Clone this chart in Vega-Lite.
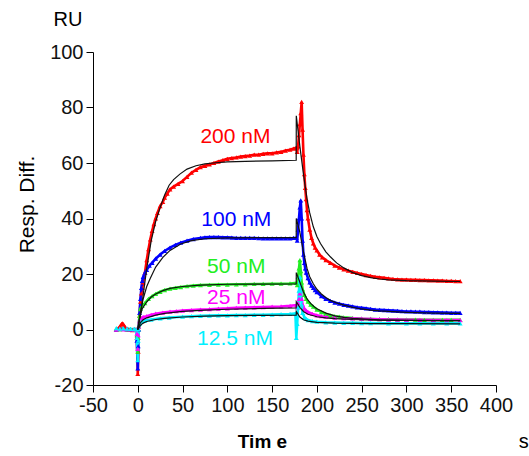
{
"$schema":"https://vega.github.io/schema/vega-lite/v6.json",
"width":403,"height":333,
"autosize":{"type":"none"},
"padding":{"left":93,"top":52,"right":33,"bottom":71},
"background":"white",
"config":{"view":{"stroke":null},"font":"Liberation Sans","axis":{"domainColor":"#000","domainWidth":1,"tickColor":"#000","tickWidth":1,"labelColor":"#111","labelFont":"Liberation Sans","labelFontSize":20,"grid":false,"titleFont":"Liberation Sans","titleColor":"#000"}},
"datasets":{
"obs":[
{"c":200,"t":-24,"y":0},{"c":200,"t":-22,"y":0.3},{"c":200,"t":-20,"y":1},{"c":200,"t":-18,"y":2},{"c":200,"t":-17,"y":2.2},{"c":200,"t":-16,"y":1.8},{"c":200,"t":-14,"y":0.8},{"c":200,"t":-12,"y":0.3},{"c":200,"t":-10,"y":0},{"c":200,"t":-8,"y":0},{"c":200,"t":-6,"y":-0.2},{"c":200,"t":-4,"y":0},{"c":200,"t":-2,"y":0},{"c":200,"t":-1,"y":-3},{"c":200,"t":0,"y":-16},{"c":200,"t":0.5,"y":-8},{"c":200,"t":1,"y":0},{"c":200,"t":2,"y":5},{"c":200,"t":3,"y":10},{"c":200,"t":4,"y":13},{"c":200,"t":5,"y":15},{"c":200,"t":6,"y":17},{"c":200,"t":8,"y":20.5},{"c":200,"t":10,"y":25},{"c":200,"t":12,"y":29},{"c":200,"t":14,"y":32.5},{"c":200,"t":16,"y":35.5},{"c":200,"t":18,"y":38},{"c":200,"t":20,"y":40},{"c":200,"t":22,"y":42},{"c":200,"t":25,"y":44.5},{"c":200,"t":28,"y":46},{"c":200,"t":30,"y":47.5},{"c":200,"t":33,"y":49},{"c":200,"t":36,"y":50.5},{"c":200,"t":40,"y":51.5},{"c":200,"t":45,"y":52.5},{"c":200,"t":50,"y":53.5},{"c":200,"t":55,"y":55},{"c":200,"t":60,"y":56.5},{"c":200,"t":65,"y":57.5},{"c":200,"t":70,"y":58.5},{"c":200,"t":75,"y":59},{"c":200,"t":80,"y":59.5},{"c":200,"t":85,"y":60},{"c":200,"t":90,"y":60.5},{"c":200,"t":95,"y":61},{"c":200,"t":100,"y":61.5},{"c":200,"t":105,"y":61.8},{"c":200,"t":110,"y":62},{"c":200,"t":115,"y":62.3},{"c":200,"t":120,"y":62.5},{"c":200,"t":125,"y":62.7},{"c":200,"t":130,"y":63},{"c":200,"t":135,"y":63},{"c":200,"t":140,"y":63.3},{"c":200,"t":145,"y":63.5},{"c":200,"t":150,"y":63.5},{"c":200,"t":155,"y":63.8},{"c":200,"t":160,"y":64},{"c":200,"t":165,"y":64.5},{"c":200,"t":170,"y":64.8},{"c":200,"t":174,"y":65.2},{"c":200,"t":177,"y":65.5},{"c":200,"t":178,"y":64},{"c":200,"t":179,"y":66},{"c":200,"t":180,"y":70},{"c":200,"t":181,"y":74},{"c":200,"t":182,"y":78},{"c":200,"t":183,"y":82},{"c":200,"t":184,"y":72},{"c":200,"t":185,"y":63},{"c":200,"t":186,"y":56},{"c":200,"t":187,"y":51},{"c":200,"t":188,"y":47},{"c":200,"t":189,"y":43},{"c":200,"t":190,"y":40},{"c":200,"t":192,"y":36},{"c":200,"t":194,"y":33},{"c":200,"t":196,"y":31},{"c":200,"t":198,"y":29.5},{"c":200,"t":200,"y":28.5},{"c":200,"t":203,"y":27},{"c":200,"t":206,"y":26},{"c":200,"t":210,"y":25},{"c":200,"t":215,"y":24},{"c":200,"t":220,"y":23},{"c":200,"t":225,"y":22.3},{"c":200,"t":230,"y":21.7},{"c":200,"t":235,"y":21.2},{"c":200,"t":240,"y":20.8},{"c":200,"t":245,"y":20.4},{"c":200,"t":250,"y":20},{"c":200,"t":255,"y":19.6},{"c":200,"t":260,"y":19.3},{"c":200,"t":265,"y":19},{"c":200,"t":270,"y":18.8},{"c":200,"t":275,"y":18.6},{"c":200,"t":280,"y":18.4},{"c":200,"t":285,"y":18.2},{"c":200,"t":290,"y":18.1},{"c":200,"t":295,"y":18},{"c":200,"t":300,"y":18},{"c":200,"t":305,"y":17.9},{"c":200,"t":310,"y":17.9},{"c":200,"t":315,"y":17.8},{"c":200,"t":320,"y":17.8},{"c":200,"t":325,"y":17.7},{"c":200,"t":330,"y":17.7},{"c":200,"t":335,"y":17.6},{"c":200,"t":340,"y":17.6},{"c":200,"t":345,"y":17.5},{"c":200,"t":350,"y":17.5},{"c":200,"t":355,"y":17.4},{"c":200,"t":360,"y":17.4},
{"c":100,"t":-24,"y":0},{"c":100,"t":-20,"y":0.2},{"c":100,"t":-16,"y":0.3},{"c":100,"t":-12,"y":0},{"c":100,"t":-8,"y":0},{"c":100,"t":-4,"y":0},{"c":100,"t":-2,"y":0},{"c":100,"t":-1,"y":-4},{"c":100,"t":0,"y":-14},{"c":100,"t":0.5,"y":-6},{"c":100,"t":1,"y":0},{"c":100,"t":2,"y":6},{"c":100,"t":3,"y":11},{"c":100,"t":4,"y":15},{"c":100,"t":5,"y":17.5},{"c":100,"t":6,"y":19},{"c":100,"t":8,"y":20.5},{"c":100,"t":10,"y":21.5},{"c":100,"t":13,"y":23},{"c":100,"t":16,"y":24},{"c":100,"t":20,"y":25.5},{"c":100,"t":25,"y":27},{"c":100,"t":30,"y":28.3},{"c":100,"t":36,"y":29.5},{"c":100,"t":42,"y":30.5},{"c":100,"t":48,"y":31.3},{"c":100,"t":55,"y":32},{"c":100,"t":62,"y":32.6},{"c":100,"t":70,"y":33},{"c":100,"t":75,"y":33.2},{"c":100,"t":80,"y":33.3},{"c":100,"t":85,"y":33.3},{"c":100,"t":90,"y":33.3},{"c":100,"t":95,"y":33.2},{"c":100,"t":100,"y":33.2},{"c":100,"t":105,"y":33.1},{"c":100,"t":110,"y":33},{"c":100,"t":115,"y":33},{"c":100,"t":120,"y":33},{"c":100,"t":125,"y":33},{"c":100,"t":130,"y":33},{"c":100,"t":135,"y":32.9},{"c":100,"t":140,"y":32.8},{"c":100,"t":145,"y":32.8},{"c":100,"t":150,"y":32.8},{"c":100,"t":155,"y":32.8},{"c":100,"t":160,"y":32.8},{"c":100,"t":165,"y":32.8},{"c":100,"t":170,"y":32.8},{"c":100,"t":174,"y":33},{"c":100,"t":177,"y":33},{"c":100,"t":178,"y":32},{"c":100,"t":179,"y":36},{"c":100,"t":180,"y":40},{"c":100,"t":181,"y":44},{"c":100,"t":182,"y":46.5},{"c":100,"t":183,"y":40},{"c":100,"t":184,"y":32},{"c":100,"t":185,"y":27},{"c":100,"t":186,"y":24},{"c":100,"t":187,"y":22},{"c":100,"t":188,"y":20.5},{"c":100,"t":190,"y":18.5},{"c":100,"t":192,"y":17},{"c":100,"t":194,"y":15.8},{"c":100,"t":196,"y":15},{"c":100,"t":198,"y":14.2},{"c":100,"t":200,"y":13.5},{"c":100,"t":205,"y":12},{"c":100,"t":210,"y":11},{"c":100,"t":215,"y":10.3},{"c":100,"t":220,"y":9.7},{"c":100,"t":225,"y":9.3},{"c":100,"t":230,"y":8.9},{"c":100,"t":235,"y":8.6},{"c":100,"t":240,"y":8.3},{"c":100,"t":245,"y":8},{"c":100,"t":250,"y":7.8},{"c":100,"t":255,"y":7.6},{"c":100,"t":260,"y":7.4},{"c":100,"t":265,"y":7.2},{"c":100,"t":270,"y":7.1},{"c":100,"t":275,"y":7},{"c":100,"t":280,"y":6.9},{"c":100,"t":285,"y":6.8},{"c":100,"t":290,"y":6.7},{"c":100,"t":295,"y":6.6},{"c":100,"t":300,"y":6.5},{"c":100,"t":305,"y":6.5},{"c":100,"t":310,"y":6.4},{"c":100,"t":315,"y":6.4},{"c":100,"t":320,"y":6.3},{"c":100,"t":325,"y":6.3},{"c":100,"t":330,"y":6.2},{"c":100,"t":335,"y":6.2},{"c":100,"t":340,"y":6.1},{"c":100,"t":345,"y":6.1},{"c":100,"t":350,"y":6},{"c":100,"t":355,"y":6},{"c":100,"t":360,"y":6},
{"c":50,"t":-24,"y":0.2},{"c":50,"t":-20,"y":0},{"c":50,"t":-16,"y":0.2},{"c":50,"t":-12,"y":0},{"c":50,"t":-8,"y":0.1},{"c":50,"t":-4,"y":0},{"c":50,"t":-2,"y":0},{"c":50,"t":-1,"y":-2},{"c":50,"t":0,"y":-8},{"c":50,"t":0.5,"y":-3},{"c":50,"t":1,"y":1},{"c":50,"t":2,"y":5},{"c":50,"t":3,"y":7.5},{"c":50,"t":5,"y":8.5},{"c":50,"t":8,"y":9.5},{"c":50,"t":12,"y":11},{"c":50,"t":16,"y":12},{"c":50,"t":20,"y":12.8},{"c":50,"t":25,"y":13.6},{"c":50,"t":30,"y":14.2},{"c":50,"t":36,"y":14.7},{"c":50,"t":42,"y":15},{"c":50,"t":48,"y":15.3},{"c":50,"t":55,"y":15.6},{"c":50,"t":62,"y":15.8},{"c":50,"t":70,"y":16},{"c":50,"t":80,"y":16.1},{"c":50,"t":90,"y":16.2},{"c":50,"t":100,"y":16.2},{"c":50,"t":110,"y":16.3},{"c":50,"t":120,"y":16.3},{"c":50,"t":130,"y":16.4},{"c":50,"t":140,"y":16.4},{"c":50,"t":150,"y":16.5},{"c":50,"t":160,"y":16.5},{"c":50,"t":170,"y":16.6},{"c":50,"t":177,"y":16.8},{"c":50,"t":178,"y":16},{"c":50,"t":179,"y":19},{"c":50,"t":180,"y":22},{"c":50,"t":181,"y":25},{"c":50,"t":182,"y":21},{"c":50,"t":183,"y":17},{"c":50,"t":184,"y":14.5},{"c":50,"t":186,"y":12.5},{"c":50,"t":188,"y":11},{"c":50,"t":190,"y":10},{"c":50,"t":193,"y":9},{"c":50,"t":196,"y":8.2},{"c":50,"t":200,"y":7.2},{"c":50,"t":205,"y":6.3},{"c":50,"t":210,"y":5.6},{"c":50,"t":215,"y":5.1},{"c":50,"t":220,"y":4.8},{"c":50,"t":225,"y":4.6},{"c":50,"t":230,"y":4.4},{"c":50,"t":240,"y":4.1},{"c":50,"t":250,"y":3.9},{"c":50,"t":260,"y":3.8},{"c":50,"t":270,"y":3.7},{"c":50,"t":280,"y":3.7},{"c":50,"t":290,"y":3.6},{"c":50,"t":300,"y":3.6},{"c":50,"t":310,"y":3.6},{"c":50,"t":320,"y":3.5},{"c":50,"t":330,"y":3.5},{"c":50,"t":340,"y":3.5},{"c":50,"t":350,"y":3.5},{"c":50,"t":360,"y":3.5},
{"c":25,"t":-24,"y":0},{"c":25,"t":-20,"y":0.2},{"c":25,"t":-16,"y":0},{"c":25,"t":-12,"y":0.1},{"c":25,"t":-8,"y":0},{"c":25,"t":-4,"y":0},{"c":25,"t":-2,"y":0},{"c":25,"t":-1,"y":-1.5},{"c":25,"t":0,"y":-7},{"c":25,"t":0.5,"y":-2},{"c":25,"t":1,"y":1},{"c":25,"t":2,"y":3},{"c":25,"t":4,"y":4},{"c":25,"t":6,"y":4.5},{"c":25,"t":10,"y":4.8},{"c":25,"t":15,"y":5.3},{"c":25,"t":20,"y":5.7},{"c":25,"t":28,"y":6.1},{"c":25,"t":36,"y":6.4},{"c":25,"t":43,"y":6.6},{"c":25,"t":50,"y":6.8},{"c":25,"t":60,"y":7},{"c":25,"t":70,"y":7.2},{"c":25,"t":80,"y":7.3},{"c":25,"t":90,"y":7.5},{"c":25,"t":100,"y":7.6},{"c":25,"t":110,"y":7.8},{"c":25,"t":120,"y":7.9},{"c":25,"t":130,"y":8},{"c":25,"t":140,"y":8.1},{"c":25,"t":150,"y":8.2},{"c":25,"t":160,"y":8.3},{"c":25,"t":170,"y":8.5},{"c":25,"t":177,"y":8.8},{"c":25,"t":178,"y":8},{"c":25,"t":179,"y":9.5},{"c":25,"t":180,"y":11},{"c":25,"t":181,"y":13},{"c":25,"t":182,"y":14},{"c":25,"t":183,"y":11},{"c":25,"t":184,"y":9},{"c":25,"t":186,"y":7.5},{"c":25,"t":188,"y":6.8},{"c":25,"t":190,"y":6.3},{"c":25,"t":195,"y":5.6},{"c":25,"t":200,"y":5.1},{"c":25,"t":205,"y":4.8},{"c":25,"t":210,"y":4.6},{"c":25,"t":220,"y":4.3},{"c":25,"t":230,"y":4.1},{"c":25,"t":240,"y":4},{"c":25,"t":250,"y":3.9},{"c":25,"t":260,"y":3.8},{"c":25,"t":270,"y":3.7},{"c":25,"t":280,"y":3.6},{"c":25,"t":290,"y":3.6},{"c":25,"t":300,"y":3.5},{"c":25,"t":315,"y":3.5},{"c":25,"t":330,"y":3.4},{"c":25,"t":345,"y":3.4},{"c":25,"t":360,"y":3.4},
{"c":12.5,"t":-24,"y":0.5},{"c":12.5,"t":-20,"y":0.3},{"c":12.5,"t":-16,"y":0.4},{"c":12.5,"t":-12,"y":0.3},{"c":12.5,"t":-8,"y":0.2},{"c":12.5,"t":-4,"y":0.2},{"c":12.5,"t":-2,"y":0},{"c":12.5,"t":-1,"y":-3},{"c":12.5,"t":0,"y":-11},{"c":12.5,"t":0.5,"y":-4},{"c":12.5,"t":1,"y":0},{"c":12.5,"t":2,"y":2},{"c":12.5,"t":4,"y":2.8},{"c":12.5,"t":8,"y":3.2},{"c":12.5,"t":15,"y":3.6},{"c":12.5,"t":25,"y":4},{"c":12.5,"t":35,"y":4.3},{"c":12.5,"t":50,"y":4.6},{"c":12.5,"t":60,"y":4.8},{"c":12.5,"t":70,"y":4.9},{"c":12.5,"t":80,"y":5},{"c":12.5,"t":90,"y":5.1},{"c":12.5,"t":100,"y":5.1},{"c":12.5,"t":110,"y":5.2},{"c":12.5,"t":120,"y":5.2},{"c":12.5,"t":130,"y":5.3},{"c":12.5,"t":140,"y":5.3},{"c":12.5,"t":150,"y":5.4},{"c":12.5,"t":160,"y":5.5},{"c":12.5,"t":170,"y":5.6},{"c":12.5,"t":176,"y":5.8},{"c":12.5,"t":177,"y":-3},{"c":12.5,"t":178,"y":2},{"c":12.5,"t":179,"y":8},{"c":12.5,"t":180,"y":14},{"c":12.5,"t":181,"y":19},{"c":12.5,"t":182,"y":14},{"c":12.5,"t":183,"y":9},{"c":12.5,"t":184,"y":6},{"c":12.5,"t":186,"y":4.5},{"c":12.5,"t":188,"y":3.8},{"c":12.5,"t":190,"y":3.4},{"c":12.5,"t":195,"y":3},{"c":12.5,"t":200,"y":2.8},{"c":12.5,"t":210,"y":2.6},{"c":12.5,"t":220,"y":2.5},{"c":12.5,"t":230,"y":2.4},{"c":12.5,"t":240,"y":2.4},{"c":12.5,"t":250,"y":2.3},{"c":12.5,"t":260,"y":2.3},{"c":12.5,"t":280,"y":2.2},{"c":12.5,"t":300,"y":2.2},{"c":12.5,"t":315,"y":2.2},{"c":12.5,"t":330,"y":2.2},{"c":12.5,"t":345,"y":2.2},{"c":12.5,"t":360,"y":2.2}
],
"fit":[
{"c":200,"t":0,"y":0},{"c":200,"t":2,"y":4},{"c":200,"t":5,"y":10},{"c":200,"t":10,"y":22},{"c":200,"t":15,"y":32},{"c":200,"t":20,"y":39},{"c":200,"t":25,"y":44},{"c":200,"t":30,"y":48.5},{"c":200,"t":35,"y":52},{"c":200,"t":40,"y":54},{"c":200,"t":47,"y":56},{"c":200,"t":55,"y":57.8},{"c":200,"t":65,"y":59},{"c":200,"t":75,"y":59.7},{"c":200,"t":84,"y":60},{"c":200,"t":100,"y":60.4},{"c":200,"t":120,"y":60.6},{"c":200,"t":150,"y":60.8},{"c":200,"t":176.9,"y":61},{"c":200,"t":177,"y":77},{"c":200,"t":181,"y":66},{"c":200,"t":185,"y":56},{"c":200,"t":189,"y":47},{"c":200,"t":192,"y":42},{"c":200,"t":196,"y":37},{"c":200,"t":200,"y":33.5},{"c":200,"t":204,"y":31},{"c":200,"t":210,"y":28},{"c":200,"t":215,"y":26.2},{"c":200,"t":222,"y":24},{"c":200,"t":230,"y":22.2},{"c":200,"t":240,"y":20.5},{"c":200,"t":250,"y":19.4},{"c":200,"t":260,"y":18.7},{"c":200,"t":270,"y":18.2},{"c":200,"t":280,"y":17.9},{"c":200,"t":300,"y":17.6},{"c":200,"t":330,"y":17.4},{"c":200,"t":360,"y":17.3},
{"c":100,"t":0,"y":0},{"c":100,"t":3,"y":6},{"c":100,"t":6,"y":11},{"c":100,"t":10,"y":15.5},{"c":100,"t":14,"y":18.5},{"c":100,"t":20,"y":22.5},{"c":100,"t":28,"y":26},{"c":100,"t":36,"y":28.5},{"c":100,"t":48,"y":30.8},{"c":100,"t":60,"y":32},{"c":100,"t":75,"y":32.7},{"c":100,"t":100,"y":33},{"c":100,"t":140,"y":33.1},{"c":100,"t":176.9,"y":33.1},{"c":100,"t":177,"y":40},{"c":100,"t":181,"y":35},{"c":100,"t":185,"y":28},{"c":100,"t":189,"y":22},{"c":100,"t":192,"y":19},{"c":100,"t":196,"y":16.5},{"c":100,"t":200,"y":14.5},{"c":100,"t":205,"y":12.8},{"c":100,"t":210,"y":11.5},{"c":100,"t":215,"y":10.5},{"c":100,"t":222,"y":9.6},{"c":100,"t":230,"y":8.8},{"c":100,"t":240,"y":8},{"c":100,"t":250,"y":7.4},{"c":100,"t":260,"y":7},{"c":100,"t":270,"y":6.7},{"c":100,"t":280,"y":6.5},{"c":100,"t":300,"y":6.2},{"c":100,"t":330,"y":5.9},{"c":100,"t":360,"y":5.8},
{"c":50,"t":0,"y":0},{"c":50,"t":2,"y":4},{"c":50,"t":5,"y":7.5},{"c":50,"t":10,"y":10},{"c":50,"t":15,"y":11.7},{"c":50,"t":20,"y":12.8},{"c":50,"t":28,"y":14},{"c":50,"t":36,"y":14.8},{"c":50,"t":50,"y":15.5},{"c":50,"t":70,"y":16},{"c":50,"t":100,"y":16.3},{"c":50,"t":176.9,"y":16.4},{"c":50,"t":177,"y":20.5},{"c":50,"t":181,"y":17},{"c":50,"t":185,"y":13.5},{"c":50,"t":189,"y":11},{"c":50,"t":193,"y":9.4},{"c":50,"t":197,"y":8.2},{"c":50,"t":200,"y":7.5},{"c":50,"t":210,"y":5.9},{"c":50,"t":220,"y":4.9},{"c":50,"t":230,"y":4.4},{"c":50,"t":240,"y":4},{"c":50,"t":250,"y":3.8},{"c":50,"t":270,"y":3.5},{"c":50,"t":300,"y":3.3},{"c":50,"t":330,"y":3.2},{"c":50,"t":360,"y":3.2},
{"c":25,"t":0,"y":0},{"c":25,"t":3,"y":2.5},{"c":25,"t":6,"y":3.5},{"c":25,"t":10,"y":4.2},{"c":25,"t":20,"y":5.2},{"c":25,"t":30,"y":5.8},{"c":25,"t":50,"y":6.5},{"c":25,"t":75,"y":7},{"c":25,"t":100,"y":7.3},{"c":25,"t":140,"y":7.6},{"c":25,"t":176.9,"y":7.8},{"c":25,"t":177,"y":10},{"c":25,"t":181,"y":8},{"c":25,"t":185,"y":6.5},{"c":25,"t":190,"y":5.5},{"c":25,"t":200,"y":4.6},{"c":25,"t":210,"y":4.2},{"c":25,"t":220,"y":3.9},{"c":25,"t":240,"y":3.6},{"c":25,"t":270,"y":3.4},{"c":25,"t":300,"y":3.3},{"c":25,"t":360,"y":3.2},
{"c":12.5,"t":0,"y":0},{"c":12.5,"t":3,"y":1.5},{"c":12.5,"t":6,"y":2.3},{"c":12.5,"t":10,"y":2.9},{"c":12.5,"t":20,"y":3.6},{"c":12.5,"t":30,"y":4},{"c":12.5,"t":50,"y":4.5},{"c":12.5,"t":75,"y":4.8},{"c":12.5,"t":100,"y":5},{"c":12.5,"t":140,"y":5.1},{"c":12.5,"t":176.9,"y":5.2},{"c":12.5,"t":177,"y":6.5},{"c":12.5,"t":181,"y":4.5},{"c":12.5,"t":185,"y":3.5},{"c":12.5,"t":190,"y":3},{"c":12.5,"t":200,"y":2.6},{"c":12.5,"t":220,"y":2.3},{"c":12.5,"t":260,"y":2.1},{"c":12.5,"t":300,"y":2.1},{"c":12.5,"t":360,"y":2}
],
"lab":[
{"c":200,"t":109,"y":69.5,"txt":"200 nM"},{"c":100,"t":110,"y":39.6,"txt":"100 nM"},{"c":50,"t":110,"y":22.7,"txt":"50 nM"},{"c":25,"t":110,"y":11.5,"txt":"25 nM"},{"c":12.5,"t":108.6,"y":-3.6,"txt":"12.5 nM"}
],
"units":[
{"t":-78,"y":111.5,"txt":"RU"},{"t":431,"y":-40.5,"txt":"s"}
]
},
"layer":[
{"data":{"name":"obs"},
 "mark":{"type":"line","strokeWidth":2.6,"point":{"shape":"triangle-up","size":24,"filled":true}},
 "encoding":{
  "x":{"field":"t","type":"quantitative","scale":{"domain":[-50,400],"nice":false,"zero":false},
   "axis":{"values":[-50,-25,0,25,50,75,100,125,150,175,200,225,250,275,300,325,350,375,400],
    "labelExpr":"datum.value % 50 === 0 ? '' + datum.value : ''",
    "tickSize":{"condition":{"test":"datum.value % 50 === 0","value":7},"value":4},
    "labelPadding":3,"labelOverlap":false,"labelFlush":false,
    "title":"Tim e","titleFontSize":19,"titleFontWeight":"bold","titleX":169,"titleY":56,"titleBaseline":"middle","titleAnchor":"middle"}},
  "y":{"field":"y","type":"quantitative","scale":{"domain":[-20,100],"nice":false,"zero":false},
   "axis":{"values":[-20,-10,0,10,20,30,40,50,60,70,80,90,100],
    "labelExpr":"datum.value % 20 === 0 ? '' + datum.value : ''",
    "tickSize":{"condition":{"test":"datum.value % 20 === 0","value":7},"value":4},
    "labelPadding":3,"labelOverlap":false,"labelFlush":false,
    "title":"Resp. Diff.","titleFontSize":21,"titleFontWeight":"normal","titleX":-66,"titleY":152,"titleAngle":-90,"titleBaseline":"middle","titleAlign":"center"}},
  "color":{"field":"c","type":"nominal","scale":{"domain":[200,100,50,25,12.5],"range":["#ff0000","#0000ff","#22ee22","#ff00ff","#00f0ff"]},"legend":null}
 }},
{"data":{"name":"fit"},
 "mark":{"type":"line","strokeWidth":1.2,"color":"#111"},
 "encoding":{"x":{"field":"t","type":"quantitative"},"y":{"field":"y","type":"quantitative"},"detail":{"field":"c","type":"nominal"}}},
{"data":{"name":"lab"},
 "mark":{"type":"text","fontSize":21,"font":"Liberation Sans","baseline":"middle","align":"center"},
 "encoding":{"x":{"field":"t","type":"quantitative"},"y":{"field":"y","type":"quantitative"},"text":{"field":"txt"},"color":{"field":"c","type":"nominal"}}},
{"data":{"name":"units"},
 "mark":{"type":"text","fontSize":20,"font":"Liberation Sans","baseline":"middle","align":"center","color":"#000"},
 "encoding":{"x":{"field":"t","type":"quantitative"},"y":{"field":"y","type":"quantitative"},"text":{"field":"txt"}}}
]
}
